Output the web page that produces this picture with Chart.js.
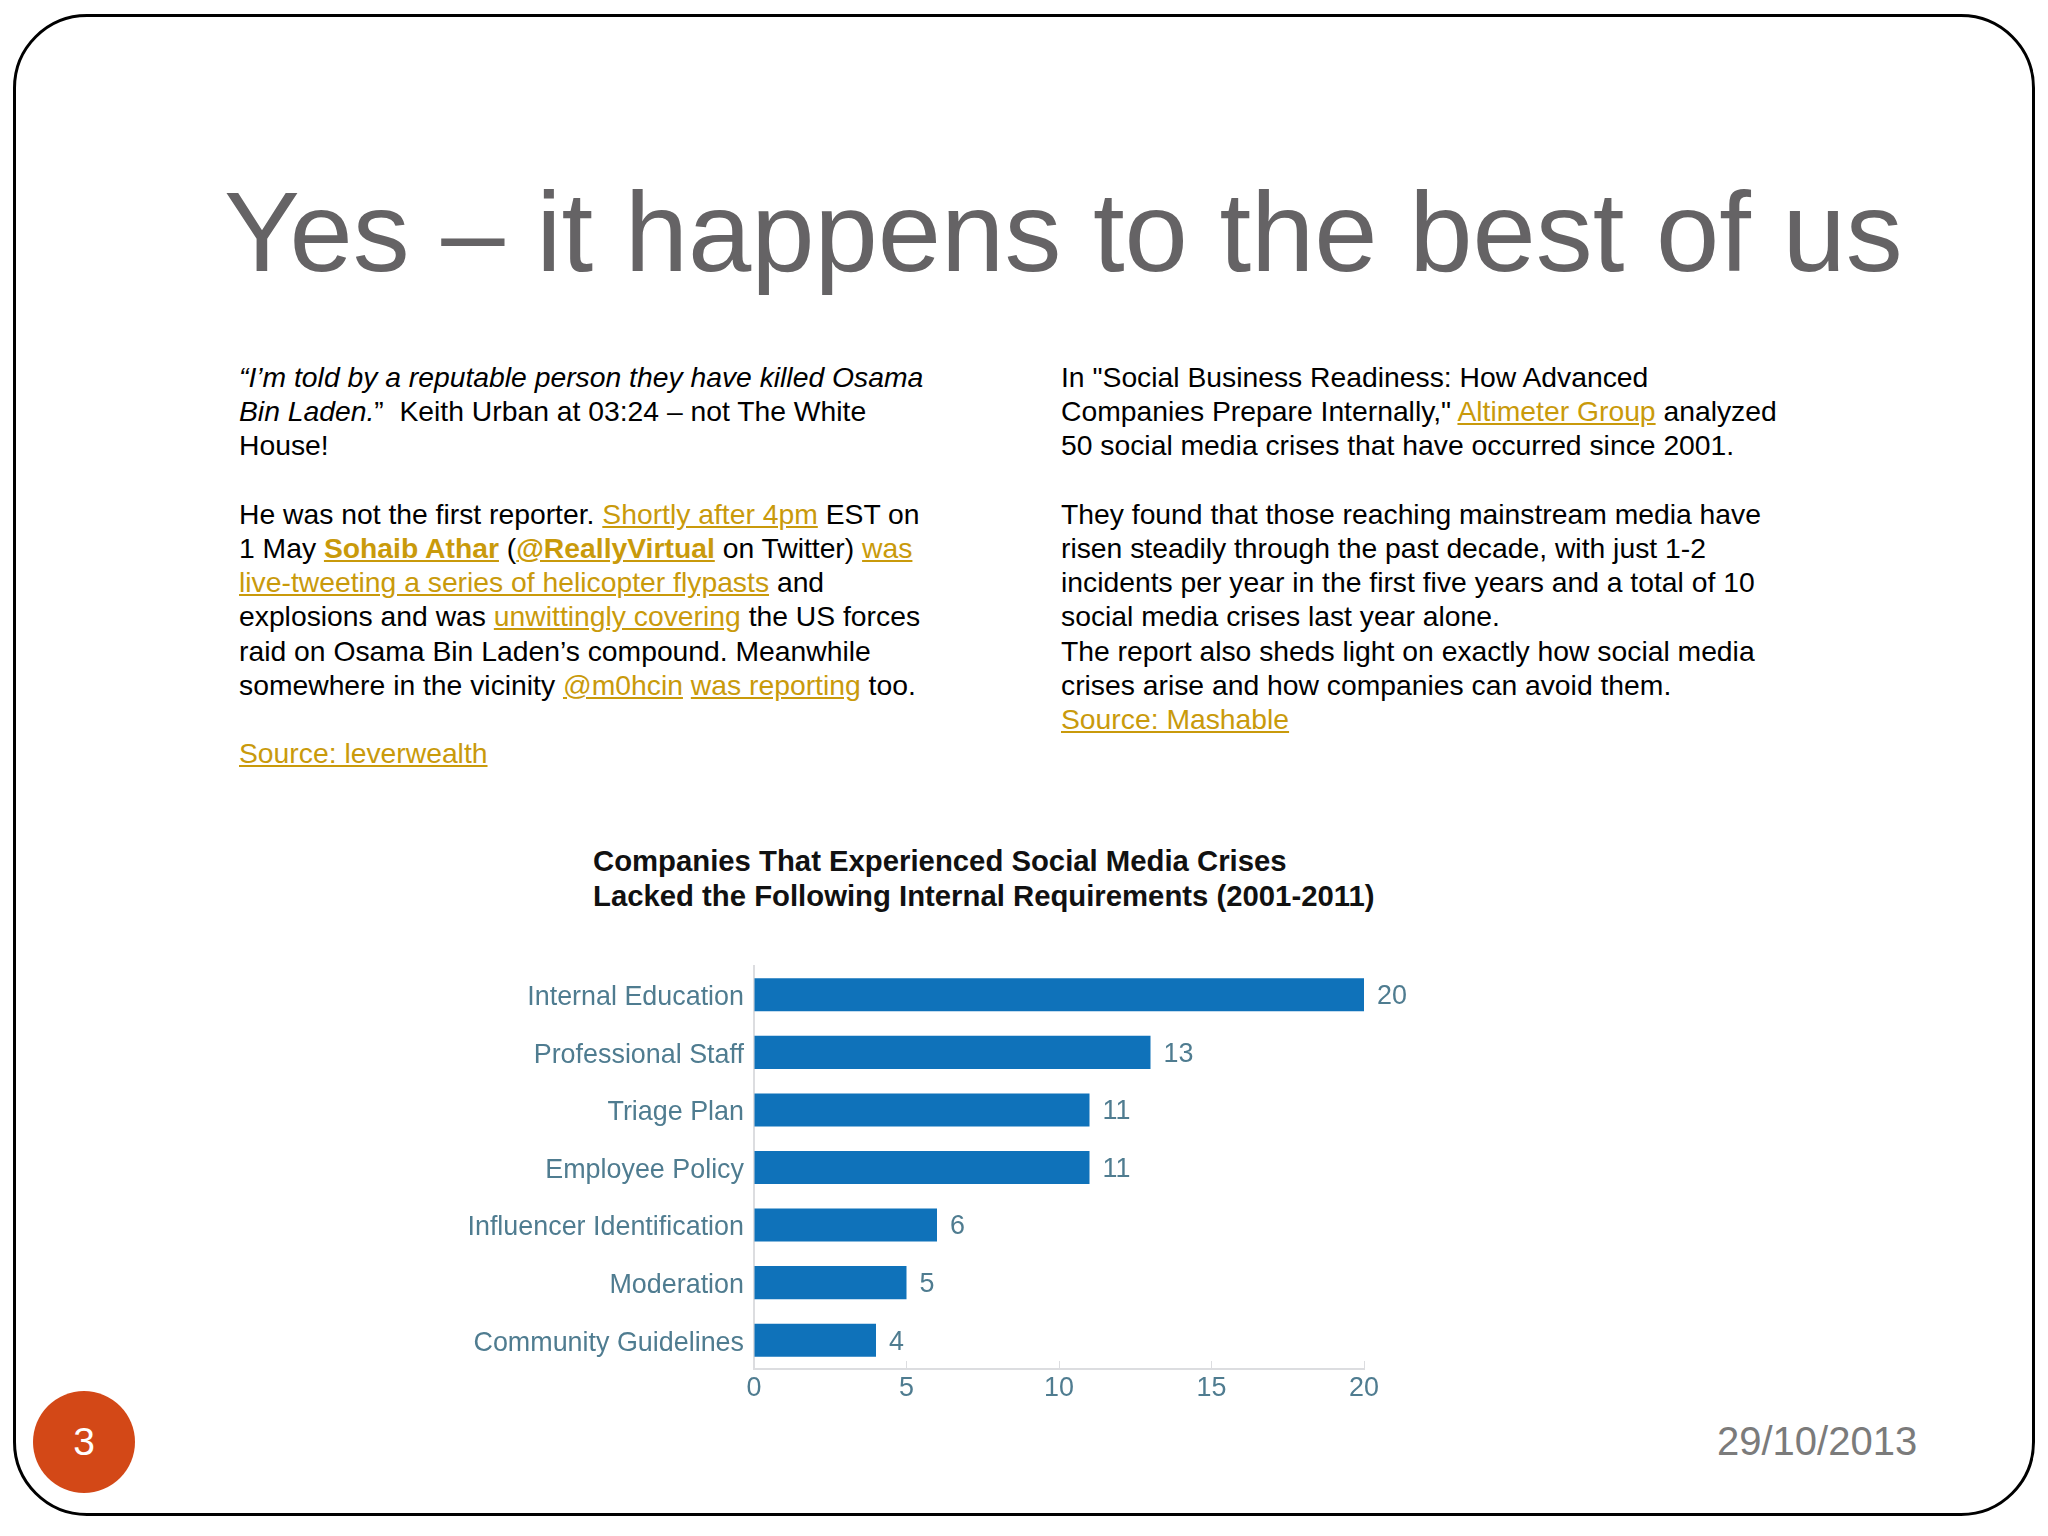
<!DOCTYPE html>
<html>
<head>
<meta charset="utf-8">
<script src="https://cdn.jsdelivr.net/npm/chart.js@4"></script>
<style>
html, body { margin: 0; padding: 0; background: #fff; }
body { width: 2048px; height: 1536px; position: relative; overflow: hidden; font-family: "Liberation Sans", Arial, sans-serif; }
#frame { position: absolute; left: 13px; top: 14px; width: 2015.5px; height: 1495.5px; border: 3px solid #000; border-radius: 74px; }
#title { position: absolute; left: 224px; top: 162px; font-size: 113.8px; line-height: 140px; color: #656365; white-space: nowrap; }
.para { position: absolute; font-size: 28.3px; line-height: 34.2px; color: #000; white-space: nowrap; }
.para a { color: #c99a0b; text-decoration: underline; }
#chart_title { position: absolute; left: 593px; top: 843px; font-size: 29.3px; line-height: 35px; font-weight: bold; color: #111; white-space: nowrap; }
#chart_box { position: absolute; left: 440px; top: 940px; width: 1000px; height: 480px; }
#badge { position: absolute; left: 33px; top: 1391px; width: 102px; height: 102px; border-radius: 51px; background: #d34817; color: #fff; font-size: 39px; line-height: 102px; text-align: center; }
#date { position: absolute; left: 1717px; top: 1418px; font-size: 40px; line-height: 46px; color: #7b7b7b; white-space: nowrap; }
</style>
</head>
<body>
<div id="frame"></div>
<div id="title">Yes – it happens to the best of us</div>

<div class="para" style="left:239px;top:360px">
<i>“I’m told by a reputable person they have killed Osama</i><br>
<i>Bin Laden.</i>”&nbsp; Keith Urban at 03:24 – not The White<br>
House!<br>
<br>
He was not the first reporter. <a>Shortly after 4pm</a> EST on<br>
1 May <a><b>Sohaib Athar</b></a> (<a><b>@ReallyVirtual</b></a> on Twitter) <a>was</a><br>
<a>live-tweeting a series of helicopter flypasts</a> and<br>
explosions and was <a>unwittingly covering</a> the US forces<br>
raid on Osama Bin Laden’s compound. Meanwhile<br>
somewhere in the vicinity <a>@m0hcin</a> <a>was reporting</a> too.<br>
<br>
<a>Source: leverwealth</a>
</div>

<div class="para" style="left:1061px;top:360px">
In "Social Business Readiness: How Advanced<br>
Companies Prepare Internally," <a>Altimeter Group</a> analyzed<br>
50 social media crises that have occurred since 2001.<br>
<br>
They found that those reaching mainstream media have<br>
risen steadily through the past decade, with just 1-2<br>
incidents per year in the first five years and a total of 10<br>
social media crises last year alone.<br>
The report also sheds light on exactly how social media<br>
crises arise and how companies can avoid them.<br>
<a>Source: Mashable</a>
</div>

<div id="chart_title">Companies That Experienced Social Media Crises<br>Lacked the Following Internal Requirements (2001-2011)</div>
<div id="chart_box"><canvas id="graph0"></canvas></div>

<div id="badge">3</div>
<div id="date">29/10/2013</div>

<script>
var categories = ["Internal Education", "Professional Staff", "Triage Plan", "Employee Policy", "Influencer Identification", "Moderation", "Community Guidelines"];
var values     = [20, 13, 11, 11, 6, 5, 4];
var x_ticks    = [0, 5, 10, 15, 20];

var LABEL_COLOR = "#4f7c90";
var AXIS_COLOR  = "#dcdde0";

//バーの右に数値を描く
var value_labels = {
    id: "value_labels",
    afterDatasetsDraw: function(chart){
        let ctx  = chart.ctx;
        let bars = chart.getDatasetMeta(0).data;
        ctx.save();
        ctx.font = "26.9px 'Liberation Sans'";
        ctx.fillStyle = LABEL_COLOR;
        ctx.textBaseline = "middle";
        ctx.textAlign = "left";
        for (let i=0;i<bars.length;i++){
            ctx.fillText(String(values[i]), bars[i].x + 13, bars[i].y + 2);
        }
        ctx.restore();
    }
};

new Chart(document.getElementById("graph0"), {
    type: "bar",
    data: {
        labels: categories,
        datasets: [ {
            data: values,
            backgroundColor: "#0f72ba",
            barPercentage: 0.575,
            categoryPercentage: 1
        } ]
    },
    options: {
        indexAxis: "y",
        responsive: true,
        maintainAspectRatio: false,
        animation: false,
        layout: { padding: { top: 26, right: 76, bottom: 0, left: 0 } },
        plugins: { legend: { display: false }, tooltip: { enabled: false } },
        scales: {
            x: {
                min: 0,
                max: 20,
                afterBuildTicks: function(axis){ axis.ticks = x_ticks.map(function(v){ return { value: v }; }); },
                afterFit: function(axis){ axis.height = 51; },
                //目盛りは軸の内側に向ける
                grid: { display: true, drawOnChartArea: false, drawTicks: true, tickLength: -8, color: AXIS_COLOR },
                border: { color: AXIS_COLOR, width: 2 },
                ticks: { color: LABEL_COLOR, font: { family: "'Liberation Sans'", size: 26.9 }, padding: 11, maxRotation: 0 }
            },
            y: {
                afterFit: function(axis){ axis.width = 314; },
                grid: { display: false },
                border: { color: AXIS_COLOR, width: 2 },
                ticks: { color: LABEL_COLOR, font: { family: "'Liberation Sans'", size: 26.9 }, padding: 2, labelOffset: 3 }
            }
        }
    },
    plugins: [value_labels]
});
</script>
</body>
</html>
